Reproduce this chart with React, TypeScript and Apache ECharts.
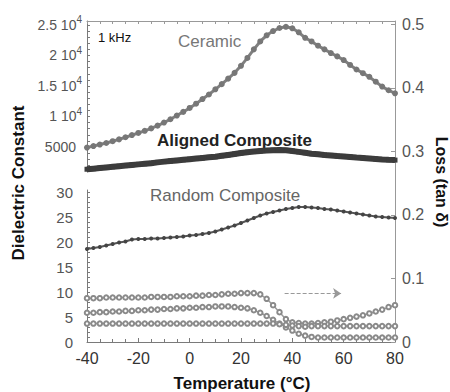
import React, { useEffect, useRef } from "react";
import * as echarts from "echarts";

const FONT = "'Liberation Sans', Arial, Helvetica, sans-serif";

// Temperatures (°C) at which every curve is read
const temps = [
  -40, -37.5, -35, -32.5, -30, -27.5, -25, -22.5, -20, -17.5, -15, -12.5, -10, -7.5, -5, -2.5,
  0, 2.5, 5, 7.5, 10, 12.5, 15, 17.5, 20, 22.5, 25, 27.5, 30, 32.5, 35, 37.5, 40, 42.5, 45, 47.5,
  50, 52.5, 55, 57.5, 60, 62.5, 65, 67.5, 70, 72.5, 75, 77.5, 80,
];

// Dielectric constant, upper scale
const ceramic = [
  4900, 5150, 5400, 5650, 5950, 6250, 6600, 6950, 7300, 7650, 8050, 8500, 9000, 9550, 10150, 10750,
  11400, 12100, 12850, 13600, 14450, 15300, 16200, 17150, 18300, 19600, 21000, 22300, 23300, 24000,
  24500, 24700, 24450, 23800, 22900, 22300, 21600, 21000, 20400, 19850, 19250, 18450, 17700, 17100,
  16500, 15700, 14900, 14300, 13800,
];
const aligned = [
  1350, 1450, 1550, 1650, 1750, 1850, 1950, 2050, 2150, 2250, 2350, 2480, 2600, 2700, 2800, 2900,
  3000, 3100, 3200, 3300, 3400, 3550, 3700, 3850, 4000, 4150, 4250, 4350, 4420, 4480, 4500, 4450,
  4350, 4200, 4050, 3900, 3800, 3700, 3620, 3530, 3450, 3370, 3280, 3200, 3120, 3040, 2960, 2900, 2850,
];
// Dielectric constant, lower scale
const random = [
  18.6, 18.8, 19.0, 19.3, 19.6, 19.9, 20.1, 20.5, 20.6, 20.6, 20.7, 20.7, 20.8, 20.9, 21.0, 21.1,
  21.3, 21.4, 21.6, 21.8, 22.1, 22.5, 22.9, 23.3, 23.8, 24.3, 24.8, 25.3, 25.7, 26.0, 26.3, 26.6,
  26.8, 27.0, 27.0, 26.9, 26.8, 26.6, 26.5, 26.3, 26.1, 25.9, 25.7, 25.5, 25.3, 25.1, 25.0, 24.9, 24.8,
];
// Loss (tan δ), right scale
const lossCeramic = [
  0.069, 0.069, 0.069, 0.07, 0.07, 0.07, 0.07, 0.07, 0.07, 0.07, 0.071, 0.071, 0.071, 0.071, 0.072,
  0.072, 0.072, 0.073, 0.073, 0.074, 0.074, 0.075, 0.076, 0.076, 0.077, 0.077, 0.077, 0.075, 0.068,
  0.058, 0.047, 0.036, 0.031, 0.03, 0.029, 0.029, 0.03, 0.031, 0.032, 0.034, 0.036, 0.038, 0.04,
  0.042, 0.045, 0.048, 0.051, 0.055, 0.058,
];
const lossAligned = [
  0.046, 0.046, 0.047, 0.047, 0.048, 0.048, 0.049, 0.049, 0.05, 0.05, 0.051, 0.051, 0.052, 0.052,
  0.053, 0.053, 0.054, 0.054, 0.055, 0.055, 0.056, 0.056, 0.056, 0.055, 0.054, 0.053, 0.05, 0.046,
  0.041, 0.035, 0.029, 0.023, 0.018, 0.013, 0.01, 0.008, 0.007, 0.007, 0.007, 0.007, 0.007, 0.007,
  0.007, 0.007, 0.007, 0.007, 0.007, 0.007, 0.007,
];
const lossRandom = [
  0.029, 0.029, 0.029, 0.029, 0.029, 0.029, 0.029, 0.029, 0.029, 0.029, 0.029, 0.029, 0.029, 0.029,
  0.029, 0.029, 0.029, 0.029, 0.029, 0.029, 0.029, 0.029, 0.029, 0.029, 0.029, 0.029, 0.029, 0.029,
  0.029, 0.029, 0.028, 0.027, 0.026, 0.025, 0.024, 0.025, 0.025, 0.025, 0.025, 0.025, 0.025, 0.025,
  0.025, 0.025, 0.025, 0.025, 0.025, 0.025, 0.025,
];

// Tick values
const xTicks = [-40, -20, 0, 20, 40, 60, 80];
const topLabels = [5000, 10000, 15000, 20000, 25000];
const topTicks = [
  1000, 2000, 3000, 4000, 5000, 6000, 7000, 8000, 9000, 10000, 11000, 12000, 13000, 14000, 15000,
  16000, 17000, 18000, 19000, 20000, 21000, 22000, 23000, 24000, 25000,
];
const lowLabels = [0, 5, 10, 15, 20, 25, 30];
const lowTicks = [
  0, 1, 2, 3, 4, 5, 6, 7, 8, 9, 10, 11, 12, 13, 14, 15, 16, 17, 18, 19, 20, 21, 22, 23, 24, 25, 26,
  27, 28, 29, 30,
];
const lossLabels = [0, 0.1, 0.2, 0.3, 0.4, 0.5];
const arrowFrom = [37, 0.0765];
const arrowTo = [59, 0.0765];

const pair = (vals: number[]) => vals.map((v, i) => [temps[i], v]);

export default function App() {
  const ref = useRef<HTMLDivElement>(null);
  useEffect(() => {
    if (!ref.current) return;
    const chart = echarts.init(ref.current, null, { renderer: "svg" });
    const axisColor = "#7a7a7a";
    const gridPos = { left: 87, right: 55 };
    const hiddenX = (gi: number) => ({
      gridIndex: gi, type: "value", min: -40, max: 80, show: false,
    });
    const leftTickCommon = {
      axisLine: { show: true, onZero: false, lineStyle: { color: axisColor, width: 1 } },
      splitLine: { show: false },
    };
    const lossSeries = (name: string, vals: number[], extra: any = {}) => ({
      name, type: "line", xAxisIndex: 0, yAxisIndex: 0, data: pair(vals),
      symbol: "emptyCircle", symbolSize: 4.5, showAllSymbol: true,
      itemStyle: { color: "#8a8a8a", borderWidth: 1.1 },
      lineStyle: { color: "#9a9a9a", width: 1.5 },
      ...extra,
    });
    chart.setOption({
      animation: false,
      grid: [
        { ...gridPos, top: 21, bottom: 50 },
        { ...gridPos, top: 21, bottom: 220 },
        { ...gridPos, top: 190, bottom: 50 },
      ],
      xAxis: [
        {
          gridIndex: 0, type: "value", min: -40, max: 80, interval: 20, position: "bottom",
          axisLine: { onZero: false, lineStyle: { color: axisColor } },
          axisTick: { inside: true, length: 4, customValues: xTicks, lineStyle: { color: axisColor } },
          minorTick: { show: true, splitNumber: 4, length: 3, lineStyle: { color: axisColor } },
          splitLine: { show: false },
          axisLabel: { color: "#333", fontSize: 16, margin: 8, fontFamily: FONT },
        },
        {
          gridIndex: 0, type: "value", min: -40, max: 80, interval: 20, position: "top",
          axisLine: { onZero: false, lineStyle: { color: "#999" } },
          axisTick: { inside: true, length: 3, lineStyle: { color: "#999" } },
          minorTick: { show: true, splitNumber: 4, length: 3, lineStyle: { color: "#999" } },
          splitLine: { show: false },
          axisLabel: { show: false },
        },
        hiddenX(1),
        hiddenX(2),
      ],
      yAxis: [
        {
          gridIndex: 0, type: "value", position: "right", min: 0, max: 0.5055,
          axisLine: { show: true, onZero: false, lineStyle: { color: "#999" } },
          axisTick: { show: true, inside: true, length: 4, customValues: lossLabels, lineStyle: { color: "#999" } },
          axisLabel: {
            customValues: lossLabels, color: "#555", fontSize: 16, margin: 7, fontFamily: FONT,
            formatter: (v: number) => (v === 0 ? "0" : v.toFixed(1)),
          },
          splitLine: { show: false },
        },
        {
          gridIndex: 1, type: "value", position: "left", min: 900, max: 25650,
          ...leftTickCommon,
          axisTick: { show: true, inside: true, length: 3, customValues: topTicks, lineStyle: { color: axisColor } },
          axisLabel: {
            customValues: topLabels, margin: 5,
            formatter: (v: number) =>
              v === 5000 ? "{m|5000}{sp|}" : `{m|${v / 10000} 10}{s|4}`,
            rich: {
              m: { fontSize: 14, color: "#555", fontFamily: FONT, lineHeight: 20 },
              s: { fontSize: 10, color: "#555", fontFamily: FONT, verticalAlign: "top", lineHeight: 12 },
              sp: { width: 6 },
            },
          },
        },
        {
          gridIndex: 2, type: "value", position: "left", min: 0, max: 30.4,
          ...leftTickCommon,
          axisTick: { show: true, inside: true, length: 3, customValues: lowTicks, lineStyle: { color: axisColor } },
          axisLabel: { customValues: lowLabels, color: "#555", fontSize: 15, margin: 14, fontFamily: FONT },
        },
      ],
      series: [
        {
          name: "Ceramic", type: "line", xAxisIndex: 2, yAxisIndex: 1, data: pair(ceramic),
          symbol: "circle", symbolSize: 6, showAllSymbol: true,
          itemStyle: { color: "#777" }, lineStyle: { color: "#808080", width: 3 },
        },
        {
          name: "Aligned Composite", type: "line", xAxisIndex: 2, yAxisIndex: 1, data: pair(aligned),
          symbol: "rect", symbolSize: 5, showAllSymbol: true,
          itemStyle: { color: "#3c3c3c" }, lineStyle: { color: "#3c3c3c", width: 6 },
        },
        {
          name: "Random Composite", type: "line", xAxisIndex: 3, yAxisIndex: 2, data: pair(random),
          symbol: "circle", symbolSize: 4, showAllSymbol: true,
          itemStyle: { color: "#444" }, lineStyle: { color: "#555", width: 2 },
        },
        lossSeries("Loss Ceramic", lossCeramic, {
          markLine: {
            silent: true, symbol: ["none", "arrow"], symbolSize: 8,
            lineStyle: { type: "dashed", color: "#999", width: 1 },
            itemStyle: { color: "#333" },
            label: { show: false },
            data: [[{ coord: arrowFrom }, { coord: arrowTo, itemStyle: { color: "#333" } }]],
          },
        }),
        lossSeries("Loss Aligned", lossAligned),
        lossSeries("Loss Random", lossRandom),
      ],
      graphic: [
        {
          type: "text", x: 18, y: 183, rotation: Math.PI / 2,
          style: { text: "Dielectric Constant", font: `bold 17px ${FONT}`, fill: "#111", align: "center", verticalAlign: "middle" },
        },
        {
          type: "text", x: 441, y: 182, rotation: -Math.PI / 2,
          style: { text: "Loss (tan δ)", font: `bold 16px ${FONT}`, fill: "#111", align: "center", verticalAlign: "middle" },
        },
        {
          type: "text", x: 242, y: 383,
          style: { text: "Temperature (°C)", font: `bold 17px ${FONT}`, fill: "#111", align: "center", verticalAlign: "middle" },
        },
        {
          type: "text", x: 98, y: 37,
          style: { text: "1 kHz", font: `13px ${FONT}`, fill: "#111", align: "left", verticalAlign: "middle" },
        },
        {
          type: "text", x: 178, y: 41,
          style: { text: "Ceramic", font: `17px ${FONT}`, fill: "#777", align: "left", verticalAlign: "middle" },
        },
        {
          type: "text", x: 157, y: 140,
          style: { text: "Aligned Composite", font: `bold 17px ${FONT}`, fill: "#222", align: "left", verticalAlign: "middle" },
        },
        {
          type: "text", x: 150, y: 195,
          style: { text: "Random Composite", font: `17px ${FONT}`, fill: "#666", align: "left", verticalAlign: "middle" },
        },
      ],
    });
    return () => chart.dispose();
  }, []);
  return (
    <div
      ref={ref}
      style={{ position: "absolute", left: 0, top: 0, width: 450, height: 392, background: "#fff" }}
    />
  );
}
